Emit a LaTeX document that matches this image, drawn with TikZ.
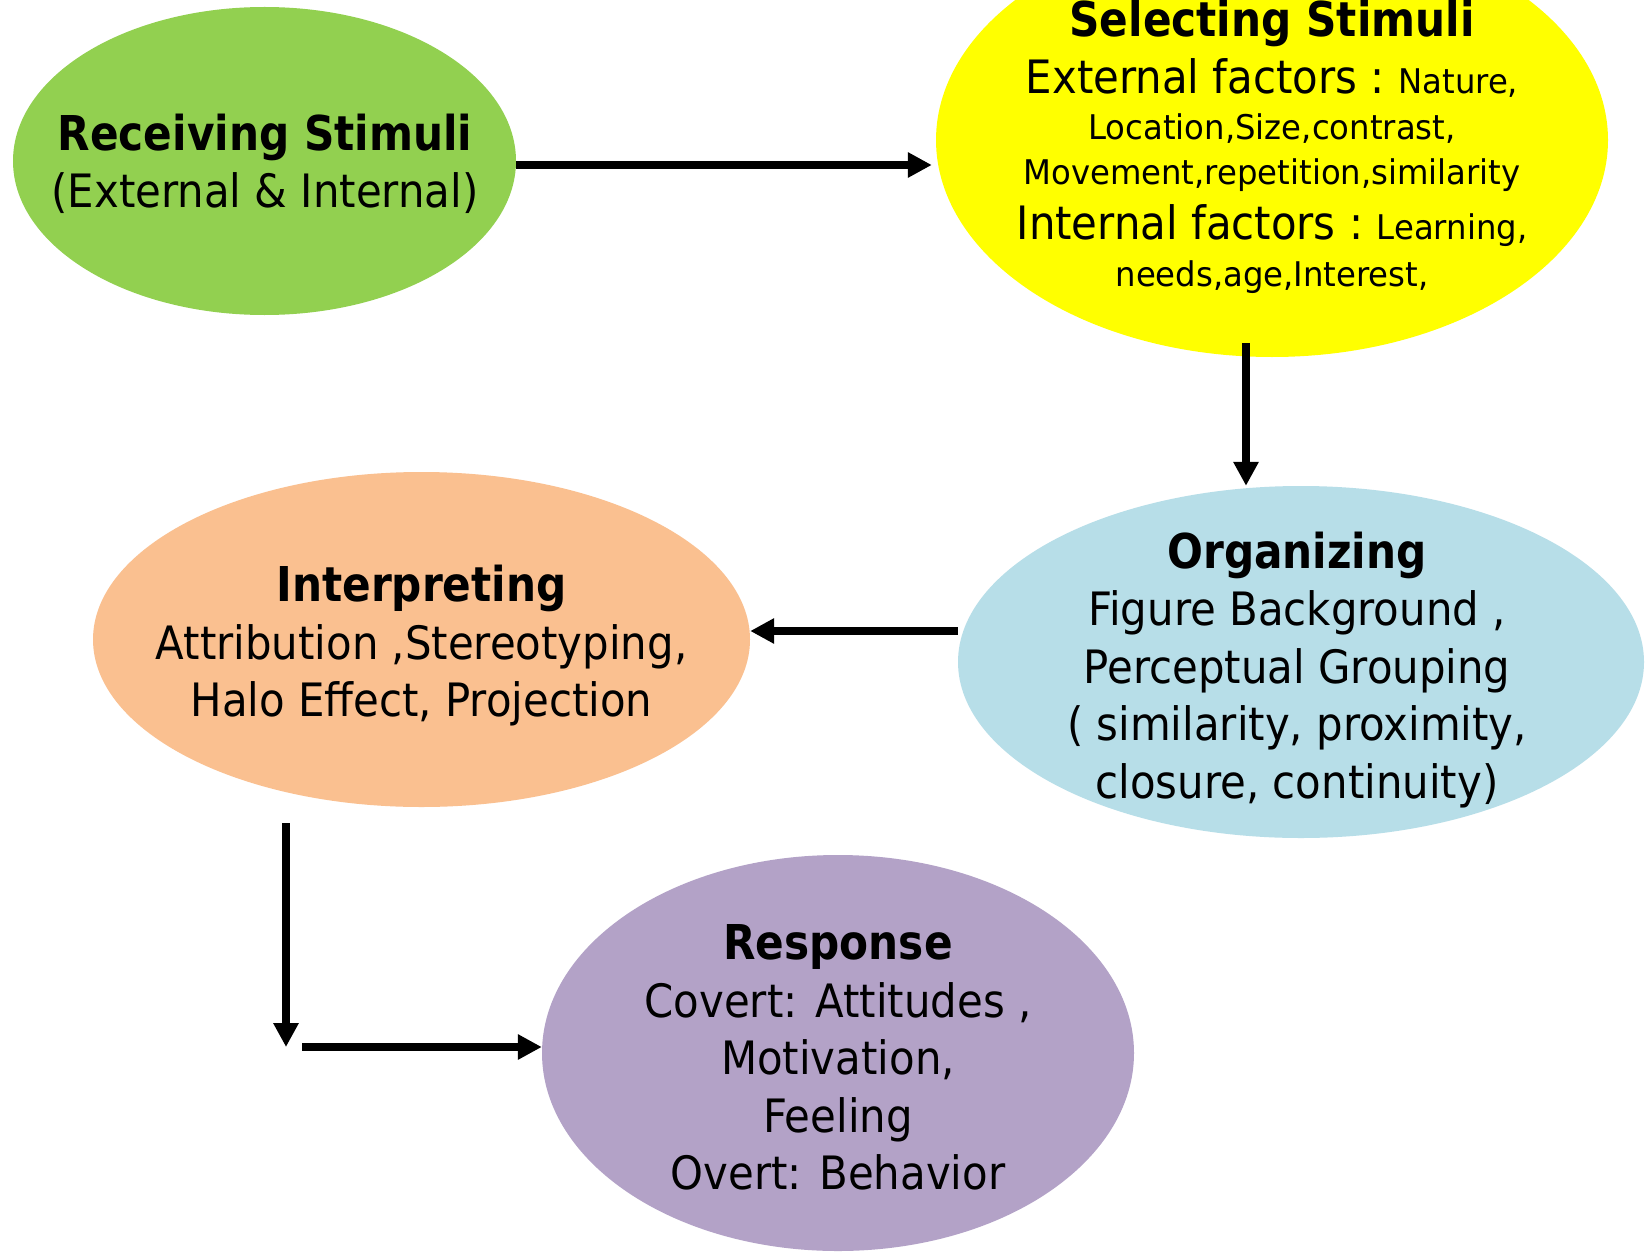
\documentclass[tikz,border=0pt]{standalone}
\usepackage{fontspec}
\usetikzlibrary{shapes.geometric,arrows.meta}
\newfontfamily\rf{DejaVu Sans}[FakeStretch=0.91]
\newfontfamily\rfs{DejaVu Sans}[FakeStretch=0.95]
\newfontfamily\bfam{DejaVu Sans}[FakeStretch=0.88]
\definecolor{cgreen}{HTML}{92D050}
\definecolor{cyellow}{HTML}{FFFF00}
\definecolor{cblue}{HTML}{B7DEE8}
\definecolor{corange}{HTML}{FAC090}
\definecolor{cpurple}{HTML}{B3A2C7}
\newcommand{\ttl}[1]{{\bfam\bfseries\fontsize{48}{57.5}\selectfont #1}}
\newcommand{\bigtxt}[1]{{\rf\fontsize{46}{40}\selectfont #1}}
\newcommand{\nolsk}{\lineskiplimit-1000pt\relax}
\newcommand{\regfont}{\rf\fontsize{46}{57.5}\selectfont\nolsk}
\newcommand{\smallfont}{\rfs\fontsize{34}{40}\selectfont\nolsk}
\tikzset{
  blob/.style={ellipse, draw=none, inner sep=0pt},
  label text/.style={inner sep=0pt, align=center, text=black, font=\regfont},
  arr/.style={line width=8pt, draw=black, -{Triangle[width=24pt,length=24pt]}}
}
\begin{document}
\begin{tikzpicture}[x=1pt,y=-1pt]
\useasboundingbox (0,0) rectangle (1645,1252);
\clip (0,0) rectangle (1645,1252);
\fill[white] (0,0) rectangle (1645,1252);

% ellipses
\node[blob, fill=cgreen,  minimum width=503pt, minimum height=308pt] (g) at (264.5,161) {};
\node[blob, fill=cyellow, minimum width=672pt, minimum height=434pt] (y) at (1272,140) {};
\node[blob, fill=cblue,   minimum width=686pt, minimum height=352pt] (b) at (1301,662) {};
\node[blob, fill=corange, minimum width=657pt, minimum height=335pt] (o) at (421.5,639.5) {};
\node[blob, fill=cpurple, minimum width=592pt, minimum height=396pt] (p) at (838,1053) {};

% texts
\node[label text] (gt) at (265,164)
  {\ttl{Receiving Stimuli}\\(External \& Internal)};

\node[label text, font=\smallfont] (yt) at (1272,147)
  {\ttl{Selecting Stimuli}\\[17pt]
   \bigtxt{External factors :} Nature,\\[6pt]
   Location,Size,contrast,\\[5pt]
   Movement,repetition,similarity\\[15pt]
   \bigtxt{Internal factors :} Learning,\\[7pt]
   needs,age,Interest,};

\node[label text] (bt) at (1297,670)
  {\ttl{Organizing}\\Figure Background ,\\Perceptual Grouping\\( similarity, proximity,\\closure, continuity)};

\node[label text] (ot) at (421.5,646)
  {\ttl{Interpreting}\\Attribution ,Stereotyping,\\Halo Effect, Projection};

\node[label text] (ptx) at (838,1057.5)
  {\ttl{Response}\\Covert: Attitudes ,\\Motivation,\\Feeling\\Overt: Behavior};

% connectors
\coordinate (gs) at ([yshift=-4pt]g.east);
\coordinate (ys) at ([xshift=-26pt,yshift=14pt]y.south);
\coordinate (bs) at ([yshift=31pt]b.west);
\coordinate (os) at ([xshift=-135.5pt,yshift=-16pt]o.south);
\coordinate (c1) at (286,1047);
\coordinate (c2) at (302,1047);

\draw[arr, shorten >=4pt] (gs) -- (gs -| y.west);
\draw[arr] (ys) -- (ys |- b.north);
\draw[arr] (bs) -- (bs -| o.east);
\draw[arr] (os) -- (c1);
\draw[arr] (c2) -- (c2 -| p.west);
\end{tikzpicture}
\end{document}
